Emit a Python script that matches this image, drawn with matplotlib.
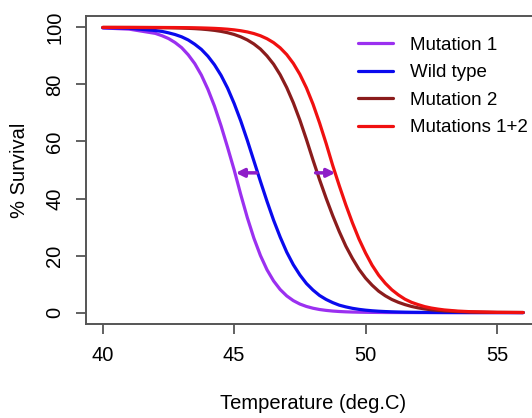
import matplotlib
matplotlib.use("Agg")
import matplotlib.pyplot as plt

plt.rcParams["font.family"] = ["Liberation Sans", "DejaVu Sans"]

# temperature grid (deg C)
temp = [40, 41] + [42 + 0.25 * i for i in range(45)] + [53.5, 54, 55, 56]

mutation1 = [99.8, 99.4,
             97.9, 97.1, 96.1, 94.7, 92.9, 90.4, 87.3, 83.3, 78.3, 72.4, 65.5, 57.9,
             50.0, 41.4, 33.3, 26.1, 20.0, 15.0, 11.1, 8.1, 5.85, 4.2, 3.0, 2.15,
             1.53, 1.08, 0.77, 0.54, 0.38, 0.27, 0.19, 0.14, 0.10, 0.07, 0.05, 0.03,
             0.02, 0.02, 0.01, 0.01, 0.0, 0.0, 0.0, 0.0, 0.0,
             0.0, 0.0, 0.0, 0.0]
wild_type = [99.9, 99.7,
             98.9, 98.6, 98.1, 97.5, 96.7, 95.6, 94.1, 92.3, 89.9, 86.9, 83.2, 78.7,
             73.3, 67.2, 60.4, 53.2, 46.0, 39.0, 32.4, 26.5, 21.2, 16.8, 13.2, 10.2,
             7.9, 6.0, 4.6, 3.5, 2.6, 2.0, 1.5, 1.13, 0.85, 0.64, 0.48, 0.36,
             0.27, 0.20, 0.15, 0.11, 0.09, 0.07, 0.05, 0.04, 0.03,
             0.02, 0.01, 0.0, 0.0]
mutation2 = [100.0, 99.98,
             99.93, 99.90, 99.87, 99.82, 99.76, 99.68, 99.57, 99.42, 99.22, 98.96,
             98.61, 98.14,
             97.52, 96.69, 95.61, 94.2, 92.4, 90.0, 87.1, 83.4, 78.9, 73.6, 67.5, 60.7,
             53.5, 46.6, 40.1, 34.0, 28.4, 23.3, 19.0, 15.2, 12.1, 9.6, 7.5, 5.9,
             4.6, 3.6, 2.8, 2.15, 1.66, 1.28, 0.98, 0.76, 0.58,
             0.35, 0.2, 0.07, 0.03]
mutations12 = [100.0, 99.99,
               99.98, 99.97, 99.96, 99.95, 99.93, 99.90, 99.87, 99.82, 99.75, 99.66,
               99.54, 99.37,
               99.14, 98.83, 98.41, 97.84, 97.07, 96.03, 94.66, 92.84, 90.47, 87.4,
               83.55, 78.8,
               73.1, 66.5, 59.3, 51.6, 44.5, 37.75, 31.5, 25.8, 20.9, 16.6, 13.1, 10.3,
               8.0, 6.2, 4.7, 3.6, 2.8, 2.1, 1.6, 1.23, 0.93,
               0.54, 0.31, 0.10, 0.03]

labels = ["Mutation 1", "Wild type", "Mutation 2", "Mutations 1+2"]
colors = ["#9B30F0", "#0A0AEE", "#8B1C1C", "#F01010"]

# arrows showing the shift caused by mutation 1
arrow_y = 49
arrow_left = (45.86, 45.06)
arrow_right = (48.1, 48.85)

fig = plt.figure(figsize=(5.32, 4.18), dpi=100)
ax = fig.add_axes([86 / 532, 94 / 418, 454 / 532, 308 / 418])

series = [mutation1, wild_type, mutation2, mutations12]
for vals, lab, col in zip(series, labels, colors):
    ax.plot(temp, vals, color=col, lw=2.3, label=lab, solid_capstyle="round")

for x0, x1 in (arrow_left, arrow_right):
    ax.annotate("", xy=(x1, arrow_y), xytext=(x0, arrow_y),
                arrowprops=dict(arrowstyle="-|>", color="#8E1EC8", lw=2.5,
                                mutation_scale=12, shrinkA=0, shrinkB=0))

ax.set_xlim(39.36, 56.64)
ax.set_ylim(-4, 104)
ax.set_xticks([40, 45, 50, 55])
ax.set_yticks([0, 20, 40, 60, 80, 100])
ax.tick_params(direction="out", length=7, width=1.3, color="#555555",
               labelsize=14.5, pad=8.5)
for lab in ax.get_yticklabels():
    lab.set_rotation(90)
    lab.set_va("center")
for side in ("left", "bottom", "top"):
    ax.spines[side].set_color("#555555")
    ax.spines[side].set_linewidth(1.4)
ax.spines["right"].set_visible(False)

ax.set_xlabel("Temperature (deg.C)", fontsize=14.5, labelpad=21)
ax.set_ylabel("% Survival", fontsize=14.5, labelpad=12)

ax.legend(loc="upper left", bbox_to_anchor=(350 / 532, 1 - 29 / 418),
          bbox_transform=fig.transFigure, frameon=False, fontsize=13.5,
          handlelength=1.9, handletextpad=0.9, labelspacing=0.56,
          borderaxespad=0)

fig.savefig("out.png", dpi=100)
